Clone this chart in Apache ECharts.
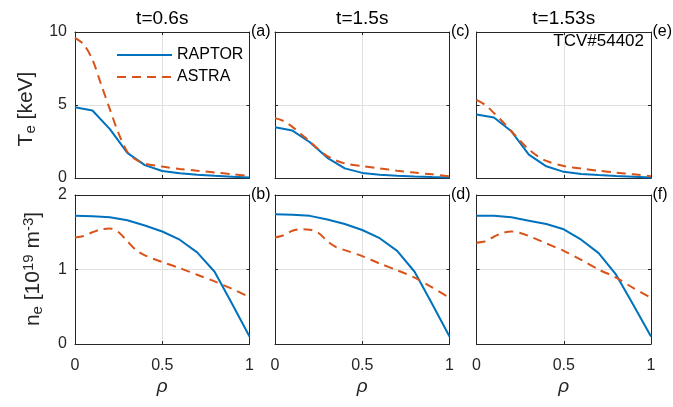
<!DOCTYPE html>
<html>
<head>
<meta charset="utf-8">
<script src="https://cdn.jsdelivr.net/npm/echarts@6/dist/echarts.min.js"></script>
<style>
  html, body { margin: 0; padding: 0; background: #fff; }
  #chart { width: 673px; height: 407px; }
</style>
</head>
<body>
<div id="chart"></div>
<script>
// ---- data -------------------------------------------------------------
const times = ['t=0.6s', 't=1.5s', 't=1.53s'];
const tagsTop = ['(a)', '(c)', '(e)'];
const tagsBottom = ['(b)', '(d)', '(f)'];
const shotLabel = 'TCV#54402';

// normalised radius grids
const rhoRaptor = [0, 0.1, 0.2, 0.3, 0.4, 0.5, 0.6, 0.7, 0.8, 0.9, 1];
const rhoAstra = [0, 0.05, 0.1, 0.15, 0.2, 0.25, 0.3, 0.35, 0.4, 0.5, 0.6, 0.7, 0.8, 0.9, 1];

// electron temperature [keV]
const teRaptor060 = [4.85, 4.62, 3.35, 1.72, 0.88, 0.48, 0.32, 0.22, 0.15, 0.09, 0.03];
const teRaptor150 = [3.47, 3.25, 2.45, 1.38, 0.66, 0.35, 0.23, 0.16, 0.11, 0.07, 0.04];
const teRaptor153 = [4.35, 4.15, 3.2, 1.6, 0.8, 0.42, 0.28, 0.2, 0.13, 0.08, 0.03];
const teAstra060 = [9.6, 9.15, 8.1, 6.4, 4.7, 3.05, 1.8, 1.25, 0.98, 0.78, 0.62, 0.5, 0.38, 0.26, 0.13];
const teAstra150 = [4.1, 3.9, 3.5, 3.0, 2.5, 1.95, 1.5, 1.2, 1.0, 0.82, 0.66, 0.5, 0.37, 0.25, 0.12];
const teAstra153 = [5.35, 5.0, 4.45, 3.85, 3.2, 2.55, 1.95, 1.5, 1.17, 0.82, 0.65, 0.5, 0.37, 0.25, 0.12];

// electron density [1e19 m^-3]
const neRaptor060 = [1.72, 1.715, 1.70, 1.66, 1.59, 1.51, 1.40, 1.23, 0.97, 0.54, 0.10];
const neRaptor150 = [1.74, 1.735, 1.72, 1.67, 1.61, 1.53, 1.42, 1.25, 0.97, 0.54, 0.10];
const neRaptor153 = [1.72, 1.72, 1.70, 1.655, 1.61, 1.54, 1.40, 1.22, 0.93, 0.52, 0.10];
const neAstra060 = [1.43, 1.45, 1.5, 1.54, 1.55, 1.50, 1.38, 1.26, 1.19, 1.1, 1.02, 0.93, 0.84, 0.74, 0.63];
const neAstra150 = [1.43, 1.46, 1.52, 1.54, 1.535, 1.49, 1.38, 1.3, 1.26, 1.18, 1.08, 0.99, 0.89, 0.76, 0.62];
const neAstra153 = [1.36, 1.38, 1.44, 1.49, 1.51, 1.49, 1.45, 1.40, 1.35, 1.25, 1.13, 1.00, 0.89, 0.75, 0.62];

const teTicks = { min: 0, max: 10, interval: 5 };
const neTicks = { min: 0, max: 2, interval: 1 };
const rhoTicks = { min: 0, max: 1, interval: 0.5 };

// ---- styling / layout -------------------------------------------------
const FONT = '"Liberation Sans", Arial, Helvetica, sans-serif';
const BLUE = '#0072BD';
const ORANGE = '#D95319';
const INK = '#262626';
const GRIDLINE = '#e0e0e0';

const colLeft = [75, 275, 476.5];
const panelW = 174.5;
const rowTop = [32, 195];
const rowH = [146, 149];

const panels = [
  { row: 0, col: 0, raptor: teRaptor060, astra: teAstra060, ticks: teTicks },
  { row: 0, col: 1, raptor: teRaptor150, astra: teAstra150, ticks: teTicks },
  { row: 0, col: 2, raptor: teRaptor153, astra: teAstra153, ticks: teTicks },
  { row: 1, col: 0, raptor: neRaptor060, astra: neAstra060, ticks: neTicks },
  { row: 1, col: 1, raptor: neRaptor150, astra: neAstra150, ticks: neTicks },
  { row: 1, col: 2, raptor: neRaptor153, astra: neAstra153, ticks: neTicks }
];

const pair = (xs, ys) => xs.map((x, k) => [x, ys[k]]);

const boxLine = { show: true, onZero: false, lineStyle: { color: INK, width: 1 } };
const innerTick = { show: true, inside: true, length: 3, lineStyle: { color: INK, width: 1 } };
const tickFont = { fontSize: 16, fontFamily: FONT, color: INK };

const grids = [], xAxes = [], yAxes = [], series = [];

panels.forEach((p, i) => {
  grids.push({
    left: colLeft[p.col], top: rowTop[p.row], width: panelW, height: rowH[p.row],
    containLabel: false, outerBoundsMode: 'none'
  });
  // bottom and top rho axes
  xAxes.push(Object.assign({
    gridIndex: i, type: 'value', position: 'bottom',
    axisLine: boxLine, axisTick: innerTick,
    axisLabel: Object.assign({ show: p.row === 1, margin: 14 }, tickFont),
    splitLine: { show: true, lineStyle: { color: GRIDLINE, width: 1 } }
  }, rhoTicks));
  xAxes.push(Object.assign({
    gridIndex: i, type: 'value', position: 'top',
    axisLine: boxLine, axisTick: innerTick,
    axisLabel: { show: false }, splitLine: { show: false }
  }, rhoTicks));
  // left and right value axes
  yAxes.push(Object.assign({
    gridIndex: i, type: 'value', position: 'left',
    axisLine: boxLine, axisTick: innerTick,
    axisLabel: Object.assign({ show: p.col === 0, margin: 8 }, tickFont),
    splitLine: { show: true, lineStyle: { color: GRIDLINE, width: 1 } }
  }, p.ticks));
  yAxes.push(Object.assign({
    gridIndex: i, type: 'value', position: 'right',
    axisLine: boxLine, axisTick: innerTick,
    axisLabel: { show: false }, splitLine: { show: false }
  }, p.ticks));

  series.push({
    type: 'line', name: 'RAPTOR', xAxisIndex: 2 * i, yAxisIndex: 2 * i,
    data: pair(rhoRaptor, p.raptor),
    symbol: 'none', showSymbol: false,
    lineStyle: { color: BLUE, width: 2 }, itemStyle: { color: BLUE },
    z: 3
  });
  series.push({
    type: 'line', name: 'ASTRA', xAxisIndex: 2 * i, yAxisIndex: 2 * i,
    data: pair(rhoAstra, p.astra),
    symbol: 'none', showSymbol: false, smooth: 0.3,
    lineStyle: { color: ORANGE, width: 2, type: [9, 6] }, itemStyle: { color: ORANGE },
    z: 4
  });
});

// ---- annotations ------------------------------------------------------
const graphics = [];
times.forEach((t, c) => {
  graphics.push({
    type: 'text', x: colLeft[c] + panelW / 2, y: 19,
    style: { text: t, fontSize: 19, fontFamily: FONT, fill: '#000', align: 'center', verticalAlign: 'middle' }
  });
  graphics.push({
    type: 'text', x: colLeft[c] + panelW + 1.5, y: rowTop[0],
    style: { text: tagsTop[c], fontSize: 16, fontFamily: FONT, fill: '#000', align: 'left', verticalAlign: 'middle' }
  });
  graphics.push({
    type: 'text', x: colLeft[c] + panelW + 1.5, y: rowTop[1],
    style: { text: tagsBottom[c], fontSize: 16, fontFamily: FONT, fill: '#000', align: 'left', verticalAlign: 'middle' }
  });
  graphics.push({
    type: 'text', x: colLeft[c] + panelW / 2, y: 387,
    style: { text: 'ρ', fontSize: 19, fontStyle: 'italic', fontFamily: FONT, fill: INK, align: 'center', verticalAlign: 'middle' }
  });
});
graphics.push({
  type: 'text', x: colLeft[2] + panelW - 7, y: 41,
  style: { text: shotLabel, fontSize: 17, fontFamily: FONT, fill: '#000', align: 'right', verticalAlign: 'middle' }
});

const scriptRich = {
  m: { fontSize: 21, lineHeight: 24, fontFamily: FONT, fill: INK },
  s: { fontSize: 15, lineHeight: 2, fontFamily: FONT, fill: INK, verticalAlign: 'bottom' },
  p: { fontSize: 15, lineHeight: 2, fontFamily: FONT, fill: INK, verticalAlign: 'top' }
};
graphics.push({
  type: 'text', x: 26, y: 109, rotation: Math.PI / 2,
  style: { text: '{m|T}{s|e}{m| [keV]}', rich: scriptRich, align: 'center', verticalAlign: 'middle' }
});
graphics.push({
  type: 'text', x: 33, y: 269, rotation: Math.PI / 2,
  style: { text: '{m|n}{s|e}{m| [10}{p|19}{m| m}{p|-3}{m|]}', rich: scriptRich, align: 'center', verticalAlign: 'middle' }
});

const chart = echarts.init(document.getElementById('chart'), null, { renderer: 'canvas' });
chart.setOption({
  animation: false,
  backgroundColor: '#fff',
  grid: grids,
  xAxis: xAxes,
  yAxis: yAxes,
  series: series,
  legend: {
    data: ['RAPTOR', 'ASTRA'],
    orient: 'vertical', left: 111, top: 42,
    itemWidth: 55, itemHeight: 14, itemGap: 6,
    // line samples only, no marker in the middle
    itemStyle: { opacity: 0, borderWidth: 0 },
    textStyle: { fontSize: 16, fontFamily: FONT, color: '#000' },
    selectedMode: false
  },
  graphic: graphics
});
</script>
</body>
</html>
